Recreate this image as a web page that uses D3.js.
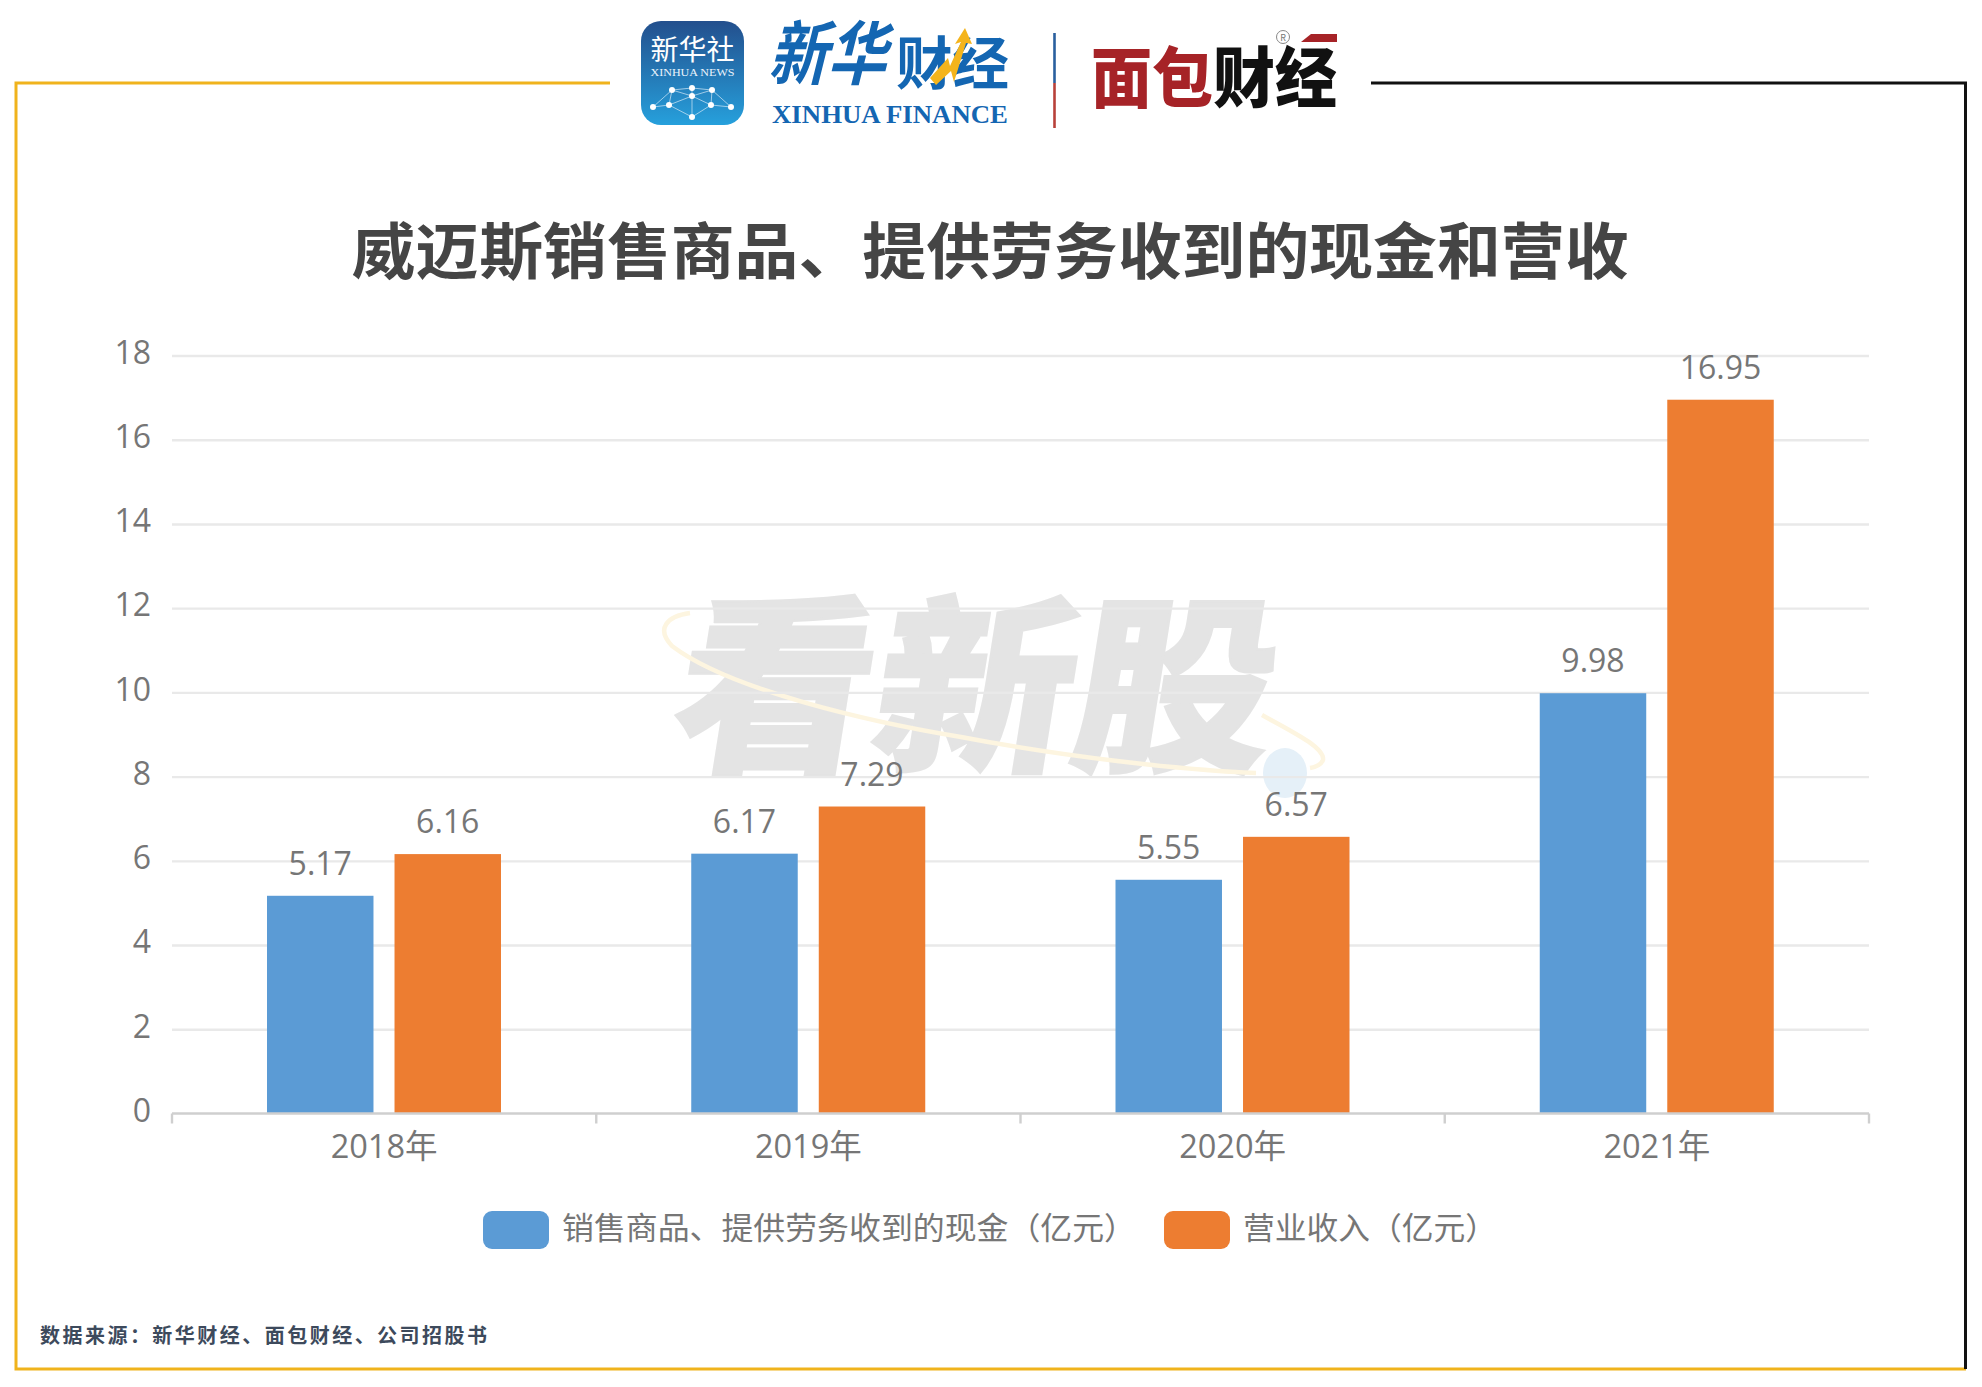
<!DOCTYPE html>
<html lang="zh">
<head>
<meta charset="utf-8">
<title>威迈斯销售商品、提供劳务收到的现金和营收</title>
<script src="https://cdn.jsdelivr.net/npm/d3@7"></script>
<style>
html,body{margin:0;padding:0;background:#fff;}
svg{display:block;}
text{font-family:"Noto Sans CJK SC","Noto Sans",sans-serif;}
.num{font-family:"Open Sans","Noto Sans CJK SC",sans-serif;}
</style>
</head>
<body>
<svg id="chart" width="1982" height="1387"></svg>
<script>
const categories = ["2018年", "2019年", "2020年", "2021年"];
const cashValues = [5.17, 6.17, 5.55, 9.98];
const revenueValues = [6.16, 7.29, 6.57, 16.95];
const seriesNames = ["销售商品、提供劳务收到的现金（亿元）", "营业收入（亿元）"];
const seriesColors = ["#5b9bd5", "#ed7d31"];
const yTicks = [0, 2, 4, 6, 8, 10, 12, 14, 16, 18];
const titleText = "威迈斯销售商品、提供劳务收到的现金和营收";
const sourceText = "数据来源：新华财经、面包财经、公司招股书";

const svg = d3.select("#chart");
const textGrey = "#767676";

// Outer frame: yellow on the left and bottom, black on the right
const frameYellow = "#f0b31c";
const frame = svg.append("g").attr("fill", "none");
frame.append("path").attr("d", "M610,83 H16 V1369 H1966").attr("stroke", frameYellow).attr("stroke-width", 3);
frame.append("path").attr("d", "M1371,83 H1965.5 V1369").attr("stroke", "#111").attr("stroke-width", 3);

// Plot scales
const x = d3.scaleBand().domain(categories).range([172, 1869]);
const inner = d3.scaleBand().domain([0, 1]).range([95, 329]).paddingInner(0.165);
const y = d3.scaleLinear().domain([0, 18]).range([1113.5, 355.5]);

// Watermark sits behind the grid
const mark = svg.append("g");
mark.append("text")
  .attr("transform", "translate(666,757) skewX(-9) scale(1,1.02)")
  .attr("font-size", 186).attr("font-weight", 900)
  .attr("textLength", 600).attr("lengthAdjust", "spacingAndGlyphs")
  .attr("fill", "#e4e4e4").attr("stroke", "#e4e4e4").attr("stroke-width", 2.5)
  .text("看新股");
mark.append("path")
  .attr("d", "M690,613 C668,616 655,628 672,646 C730,690 870,722 961,737 C1060,756 1180,770 1256,773")
  .attr("fill", "none").attr("stroke", "#fdf5e0").attr("stroke-width", 4.5);
mark.append("path")
  .attr("d", "M1262,715 C1295,733 1325,748 1323,760 C1321,765 1316,767 1310,768")
  .attr("fill", "none").attr("stroke", "#fdf5e0").attr("stroke-width", 4.5);
mark.append("ellipse").attr("cx", 1285).attr("cy", 773).attr("rx", 22).attr("ry", 25).attr("fill", "#e5f0f8");

// Gridlines and left axis
const yAxis = svg.append("g")
  .attr("transform", "translate(172,0)")
  .call(d3.axisLeft(y).tickValues(yTicks).tickSize(0).tickPadding(21))
  .call(g => g.select(".domain").remove());
yAxis.selectAll("line")
  .attr("x2", 1697).attr("stroke", "#e9e9e9").attr("stroke-width", 2.4)
  .filter(d => d === 0).remove();
yAxis.selectAll("text")
  .attr("class", "num").attr("font-size", 32).attr("fill", textGrey)
  .attr("dy", "0.32em").attr("y", -2.5);

// Bars
const groups = svg.append("g").selectAll("g").data(categories).join("g")
  .attr("transform", d => `translate(${x(d)},0)`);
[cashValues, revenueValues].forEach((values, s) => {
  groups.append("rect")
    .attr("x", inner(s))
    .attr("width", inner.bandwidth())
    .attr("y", (d, i) => y(values[i]))
    .attr("height", (d, i) => y(0) - y(values[i]))
    .attr("fill", seriesColors[s]);
  groups.append("text")
    .attr("class", "num")
    .attr("x", inner(s) + inner.bandwidth() / 2)
    .attr("y", (d, i) => y(values[i]) - 21)
    .attr("text-anchor", "middle")
    .attr("font-size", 32).attr("fill", textGrey)
    .text((d, i) => values[i].toFixed(2));
});

// Category axis with ticks on the band boundaries
const xAxis = svg.append("g").attr("transform", `translate(0,${y(0)})`);
xAxis.append("line").attr("x1", 172).attr("x2", 1869).attr("stroke", "#cfcfcf").attr("stroke-width", 2.4);
xAxis.selectAll(".tick-mark").data(d3.range(5)).join("line")
  .attr("x1", i => 172 + i * x.step()).attr("x2", i => 172 + i * x.step())
  .attr("y1", 0).attr("y2", 10).attr("stroke", "#cfcfcf").attr("stroke-width", 2.4);
xAxis.selectAll(".cat").data(categories).join("text")
  .attr("class", "num")
  .attr("x", d => x(d) + x.bandwidth() / 2)
  .attr("y", 44.5).attr("text-anchor", "middle")
  .attr("font-size", 32.5).attr("fill", textGrey)
  .text(d => d);

// Title
svg.append("text")
  .attr("x", 990).attr("y", 274).attr("text-anchor", "middle")
  .attr("font-size", 61).attr("font-weight", 700).attr("fill", "#454545")
  .attr("textLength", 1277).attr("lengthAdjust", "spacingAndGlyphs")
  .text(titleText);

// Legend
const legendX = [{box: 483, label: 562, w: 574}, {box: 1164, label: 1243, w: 254}];
legendX.forEach((p, s) => {
  svg.append("rect").attr("x", p.box).attr("y", 1211).attr("width", 66).attr("height", 38)
    .attr("rx", 9).attr("fill", seriesColors[s]);
  svg.append("text").attr("x", p.label).attr("y", 1239)
    .attr("font-size", 31).attr("fill", textGrey)
    .attr("textLength", p.w).attr("lengthAdjust", "spacingAndGlyphs")
    .text(seriesNames[s]);
});

// Source note
svg.append("text")
  .attr("x", 40).attr("y", 1343)
  .attr("font-size", 20).attr("font-weight", 700).attr("fill", "#3d4a5c")
  .attr("textLength", 447)
  .text(sourceText);

// Header logos
const logos = svg.append("g");
const defs = svg.append("defs");
const grad = defs.append("linearGradient").attr("id", "icon").attr("x1", 0).attr("x2", 0).attr("y1", 0).attr("y2", 1);
grad.append("stop").attr("offset", "0").attr("stop-color", "#234f8d");
grad.append("stop").attr("offset", "1").attr("stop-color", "#26a0dc");
logos.append("rect").attr("x", 641).attr("y", 21).attr("width", 103).attr("height", 104).attr("rx", 20).attr("fill", "url(#icon)");
logos.append("text").attr("x", 692.5).attr("y", 60).attr("text-anchor", "middle")
  .attr("font-size", 28).attr("fill", "#fff").text("新华社");
logos.append("text").attr("x", 692.5).attr("y", 76).attr("text-anchor", "middle")
  .attr("font-size", 11).attr("fill", "#eaf3fb").style("font-family", "'Liberation Serif',serif")
  .attr("textLength", 84).attr("lengthAdjust", "spacingAndGlyphs").text("XINHUA NEWS");
const nodes = [[653,107],[669,105],[692,117],[711,105],[731,107],[692,96],[672,90],[712,90],[692,88]];
const links = [[0,1],[1,2],[2,3],[3,4],[1,5],[5,3],[0,6],[6,5],[5,7],[7,4],[6,8],[8,7],[8,5],[5,2],[6,1],[7,3]];
logos.selectAll(".net").data(links).join("line")
  .attr("x1", d => nodes[d[0]][0]).attr("y1", d => nodes[d[0]][1])
  .attr("x2", d => nodes[d[1]][0]).attr("y2", d => nodes[d[1]][1])
  .attr("stroke", "#cfe6f6").attr("stroke-width", 0.9).attr("opacity", 0.8);
logos.selectAll(".node").data(nodes).join("circle")
  .attr("cx", d => d[0]).attr("cy", d => d[1]).attr("r", 3).attr("fill", "#fff");

const blue = "#1466b2";
logos.append("text").attr("transform", "translate(768,79) skewX(-14) scale(1,1.2)")
  .attr("font-size", 58).attr("font-weight", 700).attr("fill", blue)
  .attr("textLength", 118).attr("lengthAdjust", "spacingAndGlyphs").text("新华");
logos.append("text").attr("transform", "translate(896,84)")
  .attr("font-size", 57).attr("font-weight", 700).attr("fill", blue)
  .attr("textLength", 113).attr("lengthAdjust", "spacingAndGlyphs").text("财经");
logos.append("path").attr("d", "M930,78 L948,58 L950,66 L961,42 L955,44 L965,28 L972,44 L966,43 L954,82 L951,71 L936,85 Z")
  .attr("fill", "#f4b41c");
logos.append("text").attr("x", 772).attr("y", 123)
  .attr("font-size", 26).attr("font-weight", 700).attr("fill", blue)
  .style("font-family", "'Liberation Serif',serif")
  .attr("textLength", 236).attr("lengthAdjust", "spacingAndGlyphs").text("XINHUA FINANCE");

logos.append("line").attr("x1", 1054.5).attr("x2", 1054.5).attr("y1", 33).attr("y2", 83).attr("stroke", "#2a5f9e").attr("stroke-width", 2.6);
logos.append("line").attr("x1", 1054.5).attr("x2", 1054.5).attr("y1", 83).attr("y2", 128).attr("stroke", "#b8413a").attr("stroke-width", 2.6);

logos.append("text").attr("transform", "translate(1091,102) scale(1,1.08)")
  .attr("font-size", 61).attr("font-weight", 900).attr("fill", "#a62327")
  .attr("textLength", 122).attr("lengthAdjust", "spacingAndGlyphs").text("面包");
logos.append("text").attr("transform", "translate(1213,102) scale(1,1.08)")
  .attr("font-size", 61).attr("font-weight", 900).attr("fill", "#111")
  .attr("textLength", 124).attr("lengthAdjust", "spacingAndGlyphs").text("财经");
logos.append("path").attr("d", "M1311,34 H1337 V42 H1301 Z").attr("fill", "#a62327");
logos.append("circle").attr("cx", 1283).attr("cy", 37).attr("r", 6.5).attr("fill", "none").attr("stroke", "#888").attr("stroke-width", 1);
logos.append("text").attr("x", 1283).attr("y", 40.5).attr("text-anchor", "middle").attr("font-size", 9).attr("fill", "#777").text("R");
</script>
</body>
</html>
